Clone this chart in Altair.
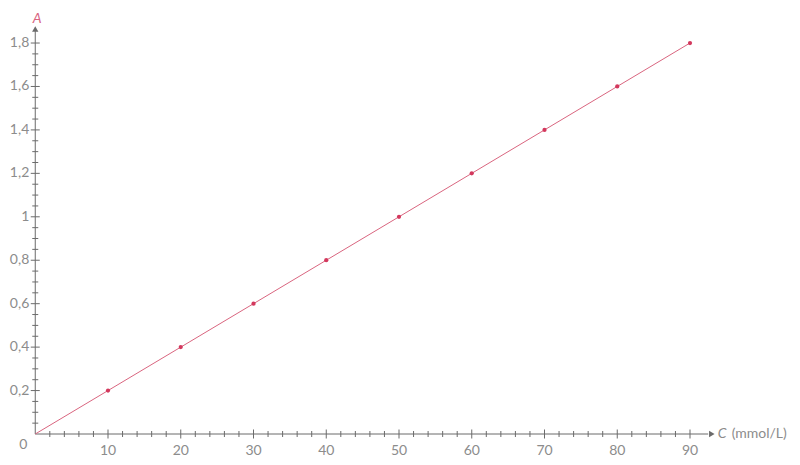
import altair as alt
import pandas as pd

# data
c_values = [10, 20, 30, 40, 50, 60, 70, 80, 90]
a_values = [0.2, 0.4, 0.6, 0.8, 1.0, 1.2, 1.4, 1.6, 1.8]
line_c = [0, 90]
line_a = [0, 1.8]
x_major = [10, 20, 30, 40, 50, 60, 70, 80, 90]
x_labels = ["10", "20", "30", "40", "50", "60", "70", "80", "90"]
x_minor = [v for v in range(2, 90, 2) if v % 10 != 0]
y_major = [0.2, 0.4, 0.6, 0.8, 1.0, 1.2, 1.4, 1.6, 1.8]
y_labels = ["0,2", "0,4", "0,6", "0,8", "1", "1,2", "1,4", "1,6", "1,8"]
y_minor = [round(0.05 * i, 2) for i in range(1, 36) if i % 4 != 0]

FONT = "Lato"
AXIS_COL = "#6b6b6b"
TXT_COL = "#8c8c8c"
LINE_COL = "#d9657f"
PT_COL = "#d3385d"

xs = alt.Scale(domain=[0, 100], nice=False, zero=False)
ys = alt.Scale(domain=[0, 1.9], nice=False, zero=False)

def X(f="x"):
    return alt.X(f"{f}:Q", scale=xs, axis=None)

def Y(f="y"):
    return alt.Y(f"{f}:Q", scale=ys, axis=None)

# axis lines
xaxis = alt.Chart(pd.DataFrame({"x": [0], "x2": [92.5], "y": [0]})).mark_rule(
    color=AXIS_COL, strokeWidth=1).encode(x=X(), x2="x2:Q", y=Y())
yaxis = alt.Chart(pd.DataFrame({"x": [0], "y": [0], "y2": [1.86]})).mark_rule(
    color=AXIS_COL, strokeWidth=1).encode(x=X(), y=Y(), y2="y2:Q")
xarrow = alt.Chart(pd.DataFrame({"x": [93.0], "y": [0]})).mark_point(
    shape="triangle-right", filled=True, color=AXIS_COL, size=40, opacity=1).encode(x=X(), y=Y())
yarrow = alt.Chart(pd.DataFrame({"x": [0], "y": [1.865]})).mark_point(
    shape="triangle-up", filled=True, color=AXIS_COL, size=40, opacity=1).encode(x=X(), y=Y())

# ticks
xmaj = alt.Chart(pd.DataFrame({"x": x_major, "y": [0] * len(x_major)})).mark_tick(
    orient="vertical", size=9, thickness=1, color=AXIS_COL, opacity=1).encode(x=X(), y=Y())
xmin = alt.Chart(pd.DataFrame({"x": x_minor, "y": [0] * len(x_minor)})).mark_tick(
    orient="vertical", size=6, thickness=1, color=AXIS_COL, opacity=1).encode(x=X(), y=Y())
ymaj = alt.Chart(pd.DataFrame({"x": [0] * len(y_major), "y": y_major})).mark_tick(
    orient="horizontal", size=9, thickness=1, color=AXIS_COL, opacity=1).encode(x=X(), y=Y())
ymin = alt.Chart(pd.DataFrame({"x": [0] * len(y_minor), "y": y_minor})).mark_tick(
    orient="horizontal", size=6, thickness=1, color=AXIS_COL, opacity=1).encode(x=X(), y=Y())

# labels
xlab = alt.Chart(pd.DataFrame({"x": x_major, "y": [0] * len(x_major), "t": x_labels})).mark_text(
    font=FONT, fontSize=14, color=TXT_COL, dy=17, align="center", baseline="middle").encode(
    x=X(), y=Y(), text="t:N")
ylab = alt.Chart(pd.DataFrame({"x": [0] * len(y_major), "y": y_major, "t": y_labels})).mark_text(
    font=FONT, fontSize=14, color=TXT_COL, dx=-6, align="right", baseline="middle").encode(
    x=X(), y=Y(), text="t:N")
zero = alt.Chart(pd.DataFrame({"x": [0], "y": [0], "t": ["0"]})).mark_text(
    font=FONT, fontSize=14, color=TXT_COL, dx=-12, dy=11, align="center", baseline="middle").encode(
    x=X(), y=Y(), text="t:N")

# axis titles
atitle = alt.Chart(pd.DataFrame({"x": [0], "y": [1.91], "t": ["A"]})).mark_text(
    font=FONT, fontSize=14, fontStyle="italic", color=LINE_COL, dx=2, align="center",
    baseline="middle").encode(x=X(), y=Y(), text="t:N")
ctitle = alt.Chart(pd.DataFrame({"x": [93.8], "y": [0], "t": ["C"]})).mark_text(
    font=FONT, fontSize=14, fontStyle="italic", color=TXT_COL, align="left",
    baseline="middle").encode(x=X(), y=Y(), text="t:N")
unit = alt.Chart(pd.DataFrame({"x": [93.8], "y": [0], "t": ["(mmol/L)"]})).mark_text(
    font=FONT, fontSize=14, color=TXT_COL, dx=14, align="left",
    baseline="middle").encode(x=X(), y=Y(), text="t:N")

# data line and points
line = alt.Chart(pd.DataFrame({"x": line_c, "y": line_a})).mark_line(
    color=LINE_COL, strokeWidth=1).encode(x=X(), y=Y())
pts = alt.Chart(pd.DataFrame({"x": c_values, "y": a_values})).mark_point(
    filled=True, color=PT_COL, size=18, opacity=1).encode(x=X(), y=Y())

chart = alt.layer(
    xaxis, yaxis, xarrow, yarrow, xmin, xmaj, ymin, ymaj, xlab, ylab, zero,
    atitle, ctitle, unit, line, pts
).properties(
    width=727.5, height=412.7,
    autosize=alt.AutoSizeParams(type="none"),
    padding={"left": 27.25, "top": 13.3, "right": 29, "bottom": 23},
).configure(background="white").configure_view(stroke=None, strokeWidth=0)

chart.save("out.html", embed_options={"renderer": "svg", "actions": False})
